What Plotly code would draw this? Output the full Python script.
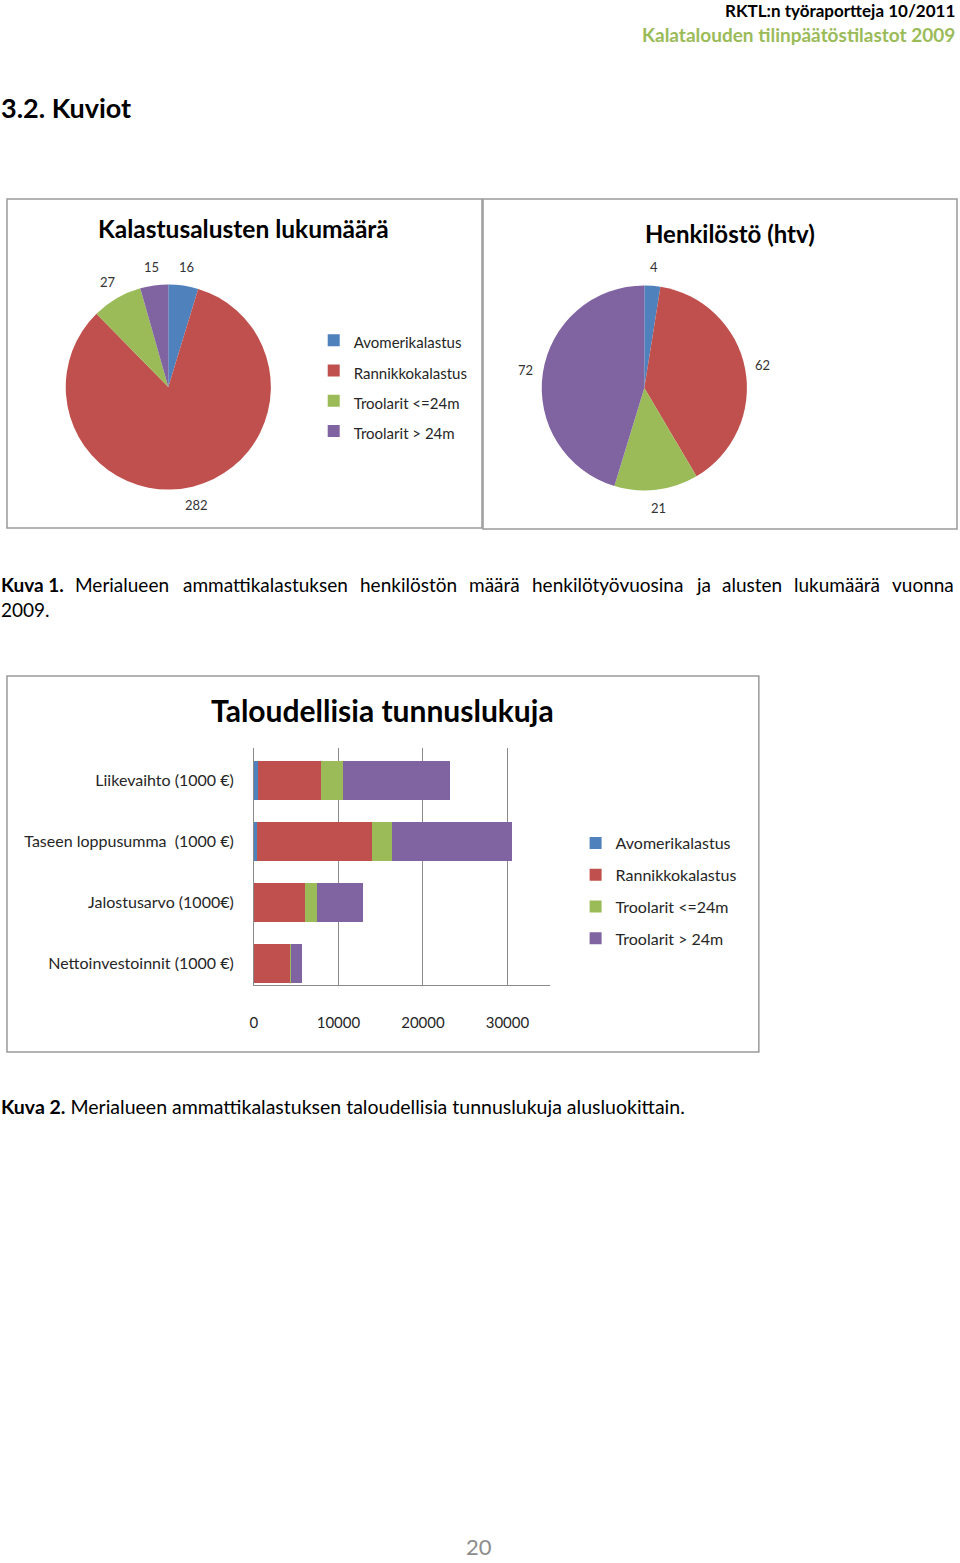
import math
import plotly.graph_objects as go

# ---------------- data ----------------
pie_labels = ["Avomerikalastus", "Rannikkokalastus", "Troolarit <=24m", "Troolarit > 24m"]
alusten_lukumaara = [16, 282, 27, 15]
henkilosto_htv = [4, 62, 21, 72]

bar_categories = ["Liikevaihto (1000 €)", "Taseen loppusumma  (1000 €)",
                  "Jalostusarvo (1000€)", "Nettoinvestoinnit (1000 €)"]
avomerikalastus = [520, 400, 60, 30]
rannikkokalastus = [7370, 13530, 5940, 4290]
troolarit_pienet = [2690, 2370, 1420, 60]
troolarit_suuret = [12580, 14280, 5490, 1300]
x_ticks = [0, 10000, 20000, 30000]

colors = ["#4F81BD", "#C0504D", "#9BBB59", "#8064A2"]
FONT = "Lato"

W, H = 960, 1563
def px(x):
    return x / W
def py(y):
    return 1 - y / H

fig = go.Figure()

legend_labels = [f"<span style='font-size:15px'>{l}</span>" for l in pie_labels]

# ---------------- pies ----------------
pies = [
    (alusten_lukumaara, (165, 387), 103, "legend"),
    (henkilosto_htv, (643, 388), 103, "legend2"),
]
for vals, (cx, cy), r, leg in pies:
    fig.add_trace(go.Pie(
        labels=legend_labels, values=vals, sort=False, direction="clockwise",
        rotation=0, marker=dict(colors=colors, line=dict(width=0)),
        textinfo="none",
        domain=dict(x=[px(cx - r), px(cx + r)], y=[py(cy + r), py(cy - r)]),
        legend=leg, showlegend=True, hoverinfo="label+value"))
    # value labels placed outside each slice, at the slice's mid-angle
    total = sum(vals)
    cum = 0
    for v in vals:
        ang = (cum + v / 2) / total * 2 * math.pi
        cum += v
        R = r + 18
        fig.add_annotation(xref="paper", yref="paper",
                           x=px(cx + R * math.sin(ang)), y=py(cy - R * math.cos(ang)),
                           text=str(v), showarrow=False, xanchor="center", yanchor="middle",
                           font=dict(family=FONT, size=13, color="#333333"))

# ---------------- bars ----------------
series = [avomerikalastus, rannikkokalastus, troolarit_pienet, troolarit_suuret]
for name, vals, col in zip(pie_labels, series, colors):
    fig.add_trace(go.Bar(
        y=bar_categories, x=vals, name=name, orientation="h",
        marker=dict(color=col, line=dict(width=0)),
        legend="legend3", legendgroup=name, xaxis="x", yaxis="y"))

fig.update_layout(
    width=W, height=H, margin=dict(l=0, r=0, t=0, b=0),
    paper_bgcolor="white", plot_bgcolor="white",
    font=dict(family=FONT, color="#262626"),
    barmode="stack", bargap=0.355,
    xaxis=dict(domain=[px(251), px(548)], range=[0, 35000], tickvals=x_ticks,
               ticktext=[str(t) for t in x_ticks],
               showgrid=True, gridcolor="#8a8a8a", gridwidth=1,
               showline=True, linecolor="#8a8a8a", linewidth=1,
               zeroline=False, ticks="", ticklabelstandoff=24,
               tickfont=dict(family=FONT, size=15, color="#262626"),
               fixedrange=True),
    yaxis=dict(domain=[py(985), py(748)], range=[3.355, -0.53], type="category",
               showgrid=False, showline=True, linecolor="#8a8a8a", linewidth=1,
               ticks="", ticklabelstandoff=16,
               tickfont=dict(family=FONT, size=16, color="#262626"),
               fixedrange=True),
    legend=dict(x=px(311), y=py(320), xanchor="left", yanchor="top",
                font=dict(family=FONT, size=21, color="#262626"),
                bgcolor="rgba(0,0,0,0)"),
    legend2=dict(x=px(788), y=py(320), xanchor="left", yanchor="top",
                 font=dict(family=FONT, size=21, color="#262626"),
                 bgcolor="rgba(0,0,0,0)"),
    legend3=dict(x=px(574), y=py(826), xanchor="left", yanchor="top",
                 font=dict(family=FONT, size=16, color="#262626"),
                 tracegroupgap=8, traceorder="grouped",
                 bgcolor="rgba(0,0,0,0)"),
    showlegend=True,
)

# ---------------- frames ----------------
for (x0, y0, x1, y1) in [(3, 199, 480, 528), (481, 199, 957, 529), (3, 676, 758, 1052)]:
    fig.add_shape(type="rect", xref="paper", yref="paper",
                  x0=px(x0), x1=px(x1), y0=py(y0), y1=py(y1),
                  line=dict(color="#9a9a9a", width=1.5), fillcolor="rgba(0,0,0,0)",
                  layer="below")

# ---------------- texts ----------------
def txt(x, y, s, size, color="#000000", bold=False, xanchor="left", family=FONT):
    fig.add_annotation(xref="paper", yref="paper", x=px(x), y=py(y), text=(f"<b>{s}</b>" if bold else s),
                       showarrow=False, xanchor=xanchor, yanchor="middle",
                       font=dict(family=family, size=size, color=color))

txt(957, 11, "RKTL:n työraportteja 10/2011", 17, "#000000", True, "right")
txt(957, 35, "Kalatalouden tilinpäätöstilastot 2009", 19, "#9BBB59", True, "right")
txt(-5, 107, "3.2. Kuviot", 27, "#000000", True)

txt(240, 229, "Kalastusalusten lukumäärä", 24.5, "#000000", True, "center")
txt(729, 233, "Henkilöstö (htv)", 24, "#000000", True, "center")
txt(380, 710, "Taloudellisia tunnuslukuja", 30, "#000000", True, "center")

# Justified caption line for Kuva 1
caption1_words = [(-5, "<b>Kuva 1.</b>"), (69, "Merialueen"), (178, "ammattikalastuksen"),
                  (355, "henkilöstön"), (465, "määrä"), (528, "henkilötyövuosina"),
                  (693, "ja"), (719, "alusten"), (791, "lukumäärä")]
for x, w in caption1_words:
    txt(x, 585, w, 19)
txt(956, 585, "vuonna", 19, xanchor="right")
txt(-5, 610, "2009.", 19)

txt(-5, 1106, "<b>Kuva 2.</b> Merialueen ammattikalastuksen taloudellisia tunnuslukuja alusluokittain.", 19.5)
txt(477, 1546, "20", 22, "#8c8c8c", False, "center")

fig.write_html("out.html", config={"displayModeBar": False},
               post_script="document.body.style.margin='0';document.body.style.overflow='hidden';")
